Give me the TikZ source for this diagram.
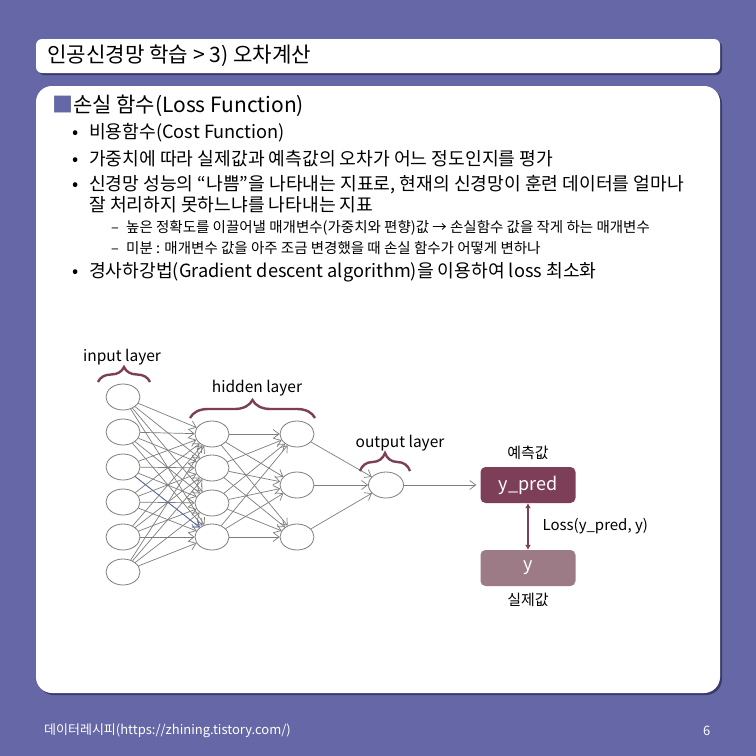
\documentclass[tikz,border=0pt]{standalone}
\usepackage{fontspec}
\setmainfont{Noto Sans CJK KR}
\usetikzlibrary{arrows.meta,positioning,shapes.geometric,decorations.pathreplacing}
\definecolor{slidePurple}{RGB}{101,103,166}
\definecolor{shadowPurple}{RGB}{58,59,108}
\definecolor{predMaroon}{RGB}{125,63,88}
\definecolor{trueMauve}{RGB}{156,122,134}
\definecolor{edgeGray}{RGB}{125,125,125}
\definecolor{edgeBlue}{RGB}{84,110,170}
\tikzset{
  neuron/.style={draw=edgeGray, ellipse, minimum width=34pt, minimum height=26pt, inner sep=0pt, line width=0.8pt},
  synapse/.style={-{Straight Barb[length=6pt,width=9pt]}, draw=edgeGray, line width=0.7pt},
  layerbrace/.style={decorate, decoration={brace, amplitude=#1}, draw=predMaroon, line width=2.4pt},
  layerlabel/.style={font=\fontsize{15.5}{17}\selectfont, inner sep=0pt},
  valbox/.style={rounded corners=5pt, minimum width=95pt, minimum height=36pt, text=white, font=\fontsize{18}{20}\selectfont, inner sep=0pt},
  vallabel/.style={text=black, font=\fontsize{15}{17}\selectfont, inner sep=0pt},
  bodytext/.style={anchor=west, inner sep=0pt, font=\fontsize{18.2}{20}\selectfont},
  subtext/.style={anchor=west, inner sep=0pt, font=\fontsize{14.5}{16}\selectfont},
  foottext/.style={anchor=west, inner sep=0pt, text=white, font=\fontsize{13}{15}\selectfont}
}
\newcommand{\bul}{\makebox[17pt][l]{•}}
\newcommand{\subdash}{\makebox[15pt][l]{–}}

\begin{document}
\begin{tikzpicture}[x=1pt, y=-1pt]
  \useasboundingbox (0,0) rectangle (756,756);
  \fill[slidePurple] (0,0) rectangle (756,756);

  \fill[shadowPurple, rounded corners=6pt] (38,41) rectangle (722,75);
  \fill[white, rounded corners=6pt] (36,39) rectangle (720,73);
  \fill[shadowPurple, rounded corners=16pt] (38,88) rectangle (722,695);
  \fill[white, rounded corners=16pt] (36,86) rectangle (720,693);

  \node[anchor=west, inner sep=0pt, font=\fontsize{21.2}{23}\selectfont] (title) at (47,56) {인공신경망 학습 > 3) 오차계산};
  \node[anchor=west, inner sep=0pt, font=\fontsize{21}{24}\selectfont] (heading) at (52,106) {{\color{slidePurple}■}손실 함수(Loss Function)};

  \node[bodytext] (b1) at (72,133) {\bul 비용함수(Cost Function)};
  \node[bodytext] (b2) at (72,159) {\bul 가중치에 따라 실제값과 예측값의 오차가 어느 정도인지를 평가};
  \node[bodytext] (b3) at (72,185) {\bul 신경망 성능의 “나쁨”을 나타내는 지표로, 현재의 신경망이 훈련 데이터를 얼마나};
  \node[bodytext] (b3b) at (89,205) {잘 처리하지 못하느냐를 나타내는 지표};
  \node[subtext] (s1) at (111,228) {\subdash 높은 정확도를 이끌어낼 매개변수(가중치와 편향)값 → 손실함수 값을 작게 하는 매개변수};
  \node[subtext] (s2) at (111,248) {\subdash 미분 : 매개변수 값을 아주 조금 변경했을 때 손실 함수가 어떻게 변하나};
  \node[bodytext] (b4) at (72,272) {\bul 경사하강법(Gradient descent algorithm)을 이용하여 loss 최소화};

  % network
  \foreach \n/\y in {1/397,2/432,3/467,4/502,5/537,6/572}
    \node[neuron] (i\n) at (123,\y) {};
  \foreach \n/\y in {1/434,2/468,3/503,4/537}
    \node[neuron] (h\n) at (212,\y) {};
  \foreach \n/\y in {1/434,2/485,3/537}
    \node[neuron] (g\n) at (297,\y) {};
  \node[neuron, minimum width=35pt] (o) at (386,485) {};

  \foreach \a in {1,...,6}
    \foreach \b in {1,...,4}
      \draw[synapse] (i\a) -- (h\b);
  \draw[synapse, draw=edgeBlue] (i3) -- (h4);
  \foreach \a in {1,...,4}
    \foreach \b in {1,...,3}
      \draw[synapse] (h\a) -- (g\b);
  \foreach \a in {1,...,3}
    \draw[synapse] (g\a) -- (o);

  \node[layerlabel] (inlabel) at (122,357) {input layer};
  \node[layerlabel] (hidlabel) at (257,388) {hidden layer};
  \node[layerlabel] (outlabel) at (400,443) {output layer};
  \draw[layerbrace=15pt] (98,382) -- (150,382);
  \draw[layerbrace=18pt] (190,418) -- (315,418);
  \draw[layerbrace=18pt] (360,471) -- (410,471);

  % prediction vs target
  \node[valbox, fill=predMaroon] (ypred) at (528,485) {y\_pred};
  \node[valbox, fill=trueMauve] (ytrue) at (528,568) {y};
  \node[vallabel, above=7pt of ypred] (predlabel) {예측값};
  \node[vallabel, below=7pt of ytrue] (truelabel) {실제값};
  \draw[synapse, shorten >=4pt] (o) -- (ypred);
  \draw[{Latex[length=5pt,width=6pt]}-{Latex[length=5pt,width=6pt]}, predMaroon, line width=1.2pt] (ypred) -- node[vallabel, right=14pt] (losslabel) {Loss(y\_pred, y)} (ytrue);

  \node[foottext] (footer) at (44,731) {데이터레시피(https://zhining.tistory.com/)};
  \node[foottext] (pagenum) at (703,731) {6};
\end{tikzpicture}
\end{document}
